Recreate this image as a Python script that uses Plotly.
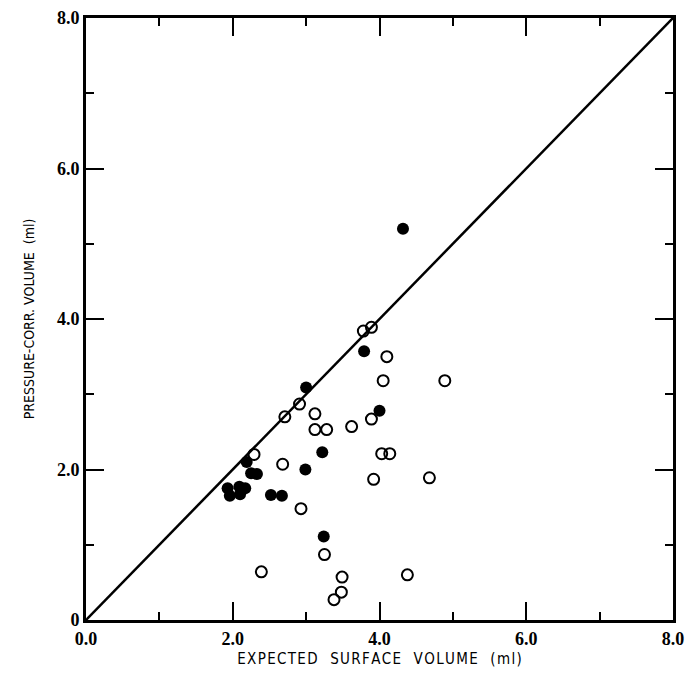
import plotly.graph_objects as go

# Open circles: expected surface volume vs pressure-corrected volume (ml)
open_x = [2.91, 2.71, 3.12, 3.89, 3.12, 3.28, 3.62, 4.03, 4.14, 2.29, 2.68, 3.92, 4.68,
          2.93, 3.25, 2.39, 3.49, 4.38, 3.48, 3.38, 3.78, 3.89, 4.10, 4.05, 4.89]
open_y = [2.87, 2.70, 2.74, 2.67, 2.53, 2.53, 2.57, 2.21, 2.21, 2.20, 2.07, 1.87, 1.89,
          1.48, 0.87, 0.64, 0.57, 0.60, 0.37, 0.27, 3.84, 3.89, 3.50, 3.18, 3.18]

# Filled circles
filled_x = [4.32, 3.79, 3.00, 4.00, 3.22, 2.19, 2.99, 2.25, 2.33, 1.93, 1.96, 2.09,
            2.17, 2.10, 2.52, 2.67, 3.24]
filled_y = [5.20, 3.57, 3.09, 2.78, 2.23, 2.10, 2.00, 1.95, 1.94, 1.75, 1.65, 1.77,
            1.75, 1.67, 1.66, 1.65, 1.11]

# Line of identity across the full axis range
identity = [0.0, 8.0]

x_tickvals = [0, 2, 4, 6, 8]
x_ticktext = ["0.0", "2.0", "4.0", "6.0", "8.0"]
y_tickvals = [0, 2, 4, 6, 8]
y_ticktext = ["0", "2.0", "4.0", "6.0", "8.0"]
minor_tickvals = [1, 3, 5, 7]

tick_font = dict(family="Liberation Sans Narrow", size=18, color="black", weight="bold")
x_title_font = dict(family="DejaVu Sans Condensed", size=15, color="black")
y_title_font = dict(family="DejaVu Sans Condensed", size=14, color="black")

fig = go.Figure()
# identity line sits on the overlay axes that carry the short intermediate ticks
fig.add_trace(go.Scatter(
    x=identity, y=identity, mode="lines", xaxis="x2", yaxis="y2",
    line=dict(color="black", width=2.5), hoverinfo="skip", showlegend=False,
))
fig.add_trace(go.Scatter(
    x=open_x, y=open_y, mode="markers",
    marker=dict(symbol="circle-open", size=11, color="black", line=dict(width=2)),
    showlegend=False,
))
fig.add_trace(go.Scatter(
    x=filled_x, y=filled_y, mode="markers",
    marker=dict(symbol="circle", size=12, color="black"),
    showlegend=False,
))

major = dict(
    range=[0, 8], showgrid=False, zeroline=False,
    showline=True, linecolor="black", linewidth=3, mirror="allticks",
    ticks="inside", ticklen=18, tickwidth=2, tickcolor="black",
    tickmode="array", tickfont=tick_font, ticklabeloverflow="allow",
)
minor = dict(
    range=[0, 8], showgrid=False, zeroline=False, showline=False,
    mirror="allticks", ticks="inside", ticklen=8, tickwidth=2, tickcolor="black",
    tickmode="array", tickvals=minor_tickvals, showticklabels=False,
)

x_title = "EXPECTED  SURFACE  VOLUME  (ml)"
y_title = "PRESSURE-CORR. VOLUME  (ml)"

fig.update_layout(
    width=692, height=682,
    margin=dict(l=86, r=8, t=14, b=62),
    plot_bgcolor="white", paper_bgcolor="white",
    xaxis=dict(tickvals=x_tickvals, ticktext=x_ticktext,
               title=dict(text="\u200a".join(x_title), font=x_title_font, standoff=6),
               **major),
    yaxis=dict(tickvals=y_tickvals, ticktext=y_ticktext,
               title=dict(text=y_title, font=y_title_font, standoff=20),
               **major),
    xaxis2=dict(overlaying="x", side="bottom", **minor),
    yaxis2=dict(overlaying="y", side="left", **minor),
)

fig.write_html("out.html")
